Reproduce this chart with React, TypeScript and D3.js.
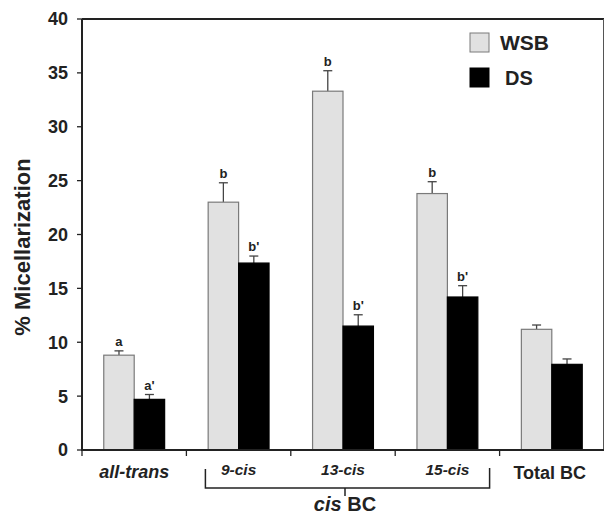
import React from 'react';
import * as d3 from 'd3';

const categories = ['all-trans', '9-cis', '13-cis', '15-cis', 'Total BC'];
const series = ['WSB', 'DS'];
const wsbValues = [8.8, 23.0, 33.3, 23.8, 11.2];
const wsbErrors = [0.4, 1.8, 1.9, 1.1, 0.4];
const dsValues = [4.7, 17.35, 11.5, 14.2, 7.95];
const dsErrors = [0.45, 0.65, 1.05, 1.05, 0.5];
const wsbLetters = ['a', 'b', 'b', 'b', ''];
const dsLetters = ["a'", "b'", "b'", "b'", ''];
const yTicks = [0, 5, 10, 15, 20, 25, 30, 35, 40];

const width = 605,
    height = 517;
const margin = { left: 82, right: 1, top: 19, bottom: 67 };
const font = '"Liberation Sans", Arial, sans-serif';

const App = () => {
    const x0 = d3.scaleBand()
        .domain(categories)
        .range([margin.left, width - margin.right])
        .paddingInner(0)
        .paddingOuter(0);

    const x1 = d3.scaleBand()
        .domain(series)
        .range([0, x0.bandwidth()])
        .paddingInner(0)
        .paddingOuter(0.715);

    const y = d3.scaleLinear()
        .domain([0, 40])
        .range([height - margin.bottom, margin.top]);

    const fills = { WSB: '#e1e1e1', DS: '#000000' };
    const strokes = { WSB: '#7a7a7a', DS: '#000000' };

    const rows = series.map(s => ({
        key: s,
        values: s === 'WSB' ? wsbValues : dsValues,
        errors: s === 'WSB' ? wsbErrors : dsErrors,
        letters: s === 'WSB' ? wsbLetters : dsLetters,
    }));

    const x0Bottom = y(0);
    const xRight = width - margin.right;
    const bracketCats = categories.slice(1, 4);
    const bLeft = x0(bracketCats[0]) + 19;
    const bRight = x0(bracketCats[2]) + x0.bandwidth() - 10;
    const bMid = x0(bracketCats[1]) + x0.bandwidth() / 2 + 2;

    // label sizes differ a bit in the original figure
    const labelSize = c => (c === 'all-trans' || c === 'Total BC' ? 18 : 15.5);
    const labelBase = c => (c === 'all-trans' ? 28 : c === 'Total BC' ? 29 : 25);

    return (
        <svg width={width} height={height} style={{ position: 'absolute', left: 0, top: 0, background: '#fff' }}>
            {/* bars */}
            {rows.map(r => (
                <g key={r.key}>
                    {categories.map((c, i) => {
                        const bx = x0(c) + x1(r.key);
                        const cx = bx + x1.bandwidth() / 2;
                        const top = y(r.values[i] + r.errors[i]);
                        return (
                            <g key={c}>
                                <line x1={cx} x2={cx} y1={y(r.values[i])} y2={top} stroke="#444" strokeWidth={1.3} />
                                <line x1={cx - 4.5} x2={cx + 4.5} y1={top} y2={top} stroke="#444" strokeWidth={1.3} />
                                <rect x={bx} y={y(r.values[i])} width={x1.bandwidth()} height={y(0) - y(r.values[i])}
                                    fill={fills[r.key]} stroke={strokes[r.key]} strokeWidth={1.2} />
                                {r.letters[i] && (
                                    <text x={cx} y={top - 5} textAnchor="middle" fontFamily={font} fontWeight="bold"
                                        fontSize={13} fill="#222">{r.letters[i]}</text>
                                )}
                            </g>
                        );
                    })}
                </g>
            ))}

            {/* frame */}
            <line x1={margin.left} x2={xRight} y1={margin.top} y2={margin.top} stroke="#222" strokeWidth={2} />
            <line x1={xRight - 0.5} x2={xRight - 0.5} y1={margin.top} y2={x0Bottom} stroke="#555" strokeWidth={1} />
            <line x1={margin.left} x2={margin.left} y1={margin.top} y2={x0Bottom + 1} stroke="#222" strokeWidth={2} />
            <line x1={margin.left} x2={xRight} y1={x0Bottom} y2={x0Bottom} stroke="#222" strokeWidth={2} />

            {/* y axis */}
            {yTicks.map(t => (
                <g key={t}>
                    <line x1={margin.left - 5} x2={margin.left} y1={y(t)} y2={y(t)} stroke="#222" strokeWidth={1.3} />
                    <text x={margin.left - 14} y={y(t)} dy="0.36em" textAnchor="end" fontFamily={font}
                        fontWeight="bold" fontSize={18} fill="#222">{t}</text>
                </g>
            ))}
            <text transform={`translate(30,247) rotate(-90)`} textAnchor="middle"
                fontFamily={font} fontWeight="bold" fontSize={22} fill="#222">% Micellarization</text>

            {/* x axis */}
            {categories.map(c => (
                <line key={c} x1={x0(c)} x2={x0(c)} y1={x0Bottom} y2={x0Bottom + 6} stroke="#222" strokeWidth={1.3} />
            ))}
            {categories.map(c => (
                <text key={c} x={x0(c) + x0.bandwidth() / 2 + (c === 'Total BC' ? -2 : 0)} y={x0Bottom + labelBase(c)}
                    textAnchor="middle" fontFamily={font} fontWeight="bold" fontSize={labelSize(c)}
                    fontStyle={c === 'Total BC' ? 'normal' : 'italic'} fill="#222">{c}</text>
            ))}

            {/* cis bracket */}
            <path d={`M${bLeft},${x0Bottom + 19} V${x0Bottom + 38} H${bRight} V${x0Bottom + 18}`} fill="none"
                stroke="#222" strokeWidth={1.5} />
            <line x1={bMid} x2={bMid} y1={x0Bottom + 38} y2={x0Bottom + 46} stroke="#222" strokeWidth={1.5} />
            <text x={bMid} y={x0Bottom + 61} textAnchor="middle" fontFamily={font} fontWeight="bold" fontSize={20}
                fill="#222"><tspan fontStyle="italic">cis</tspan> BC</text>

            {/* legend */}
            {series.map((s, i) => (
                <g key={s} transform={`translate(470,${33 + i * 35})`}>
                    <rect width={19} height={19} fill={fills[s]} stroke={strokes[s]} strokeWidth={1} />
                    <text x={s === 'WSB' ? 30 : 35} y={17} fontFamily={font} fontWeight="bold"
                        fontSize={s === 'WSB' ? 21 : 20} fill="#222">{s}</text>
                </g>
            ))}
        </svg>
    );
};

export default App;
